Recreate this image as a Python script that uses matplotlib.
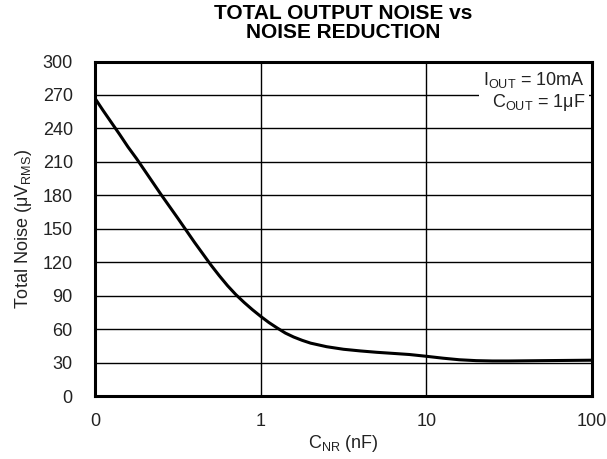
import matplotlib
matplotlib.use("Agg")
import matplotlib.pyplot as plt

plt.rcParams['font.family'] = ['Liberation Sans', 'DejaVu Sans']
plt.rcParams['mathtext.fontset'] = 'custom'
plt.rcParams['mathtext.rm'] = 'Liberation Sans'
plt.rcParams['mathtext.it'] = 'Liberation Sans:italic'

# noise reduction capacitor (nF) and total output noise (uVrms)
c_nr = [0.1, 0.112, 0.126, 0.141, 0.158, 0.178, 0.2, 0.251, 0.316, 0.398, 0.501,
        0.562, 0.631, 0.708, 0.794, 0.891, 1.0, 1.12, 1.26, 1.41, 1.58, 1.78,
        2.0, 2.5, 3.16, 4.0, 5.0, 6.3, 7.9, 10.0, 12.6, 15.8, 20.0, 25.0,
        31.6, 50.0, 100.0]
noise = [267, 256, 245, 234.5, 223.5, 213, 202, 180.5, 159.5, 138, 117.5,
         108, 99, 91, 84, 77.5, 71.5, 66, 61, 56.5, 53, 50,
         47.5, 44.3, 42, 40.5, 39.3, 38.3, 37.3, 35.7, 34, 32.6, 31.8, 31.5,
         31.5, 31.8, 32.2]

x_ticks = [0.1, 1, 10, 100]
x_tick_labels = ["0", "1", "10", "100"]
y_ticks = list(range(0, 301, 30))

fig = plt.figure(figsize=(6.07, 4.59), dpi=100)
ax = fig.add_axes([0.1565, 0.137, 0.819, 0.729])

ax.plot(c_nr, noise, color='black', linewidth=2.2, zorder=3)

ax.set_xscale('log')
ax.set_xlim(0.1, 100)
ax.set_ylim(0, 300)
ax.set_xticks(x_ticks)
ax.set_xticklabels(x_tick_labels)
ax.xaxis.set_minor_locator(matplotlib.ticker.NullLocator())
ax.set_yticks(y_ticks)
ax.tick_params(length=0, labelsize=13, colors='#222222')
ax.tick_params(axis='x', pad=12)
ax.tick_params(axis='y', pad=16)

ax.grid(True, color='black', linewidth=1)
for s in ax.spines.values():
    s.set_linewidth(2.2)

ax.set_xlabel('C$_{\\mathrm{NR}}$ (nF)', fontsize=13, color='#222222', labelpad=2)
ax.set_ylabel('Total Noise (μV$_{\\mathrm{RMS}}$)', fontsize=13, color='#222222', labelpad=6)
ax.set_title('TOTAL OUTPUT NOISE vs\nNOISE REDUCTION', fontsize=15,
             fontweight='bold', linespacing=1.0, pad=17)

ax.text(0.986, 0.975, 'I$_{\\mathrm{OUT}}$ = 10mA\nC$_{\\mathrm{OUT}}$ = 1μF',
        transform=ax.transAxes, ha='right', va='top', fontsize=13,
        color='#222222', linespacing=1.15, zorder=4,
        bbox=dict(facecolor='white', edgecolor='none', pad=3))

fig.savefig('out.png', dpi=100)
